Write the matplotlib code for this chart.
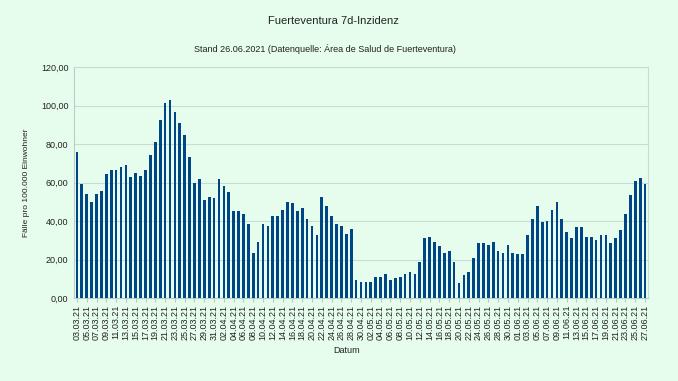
import numpy as np
import pandas as pd
import matplotlib.pyplot as plt

# 7-Tage-Inzidenz Fuerteventura, 03.03.2021 - 27.06.2021
start_date = "2021-03-03"
end_date = "2021-06-27"
inzidenz = [
    75.7, 59.1, 54.1, 50.0, 54.1, 55.7, 64.2, 66.7, 66.7, 68.3,
    69.2, 62.6, 65.0, 63.3, 66.7, 74.2, 80.8, 92.3, 101.5, 103.1,
    96.5, 90.8, 84.9, 73.3, 60.0, 61.7, 50.8, 52.6, 51.7,
    61.7, 58.3, 55.0, 45.0, 45.0, 43.4, 38.4, 23.5, 29.2, 38.4,
    37.5, 42.5, 42.5, 45.8, 50.0, 49.1, 45.0, 46.7, 40.8, 37.5,
    32.5, 52.6, 47.6, 42.5, 38.4, 37.5, 33.4, 35.8, 9.3, 8.5,
    8.5, 8.5, 11.1, 11.1, 12.6, 9.3, 10.2, 11.1, 12.6, 13.5,
    12.6, 18.5, 31.0, 31.6, 29.2, 26.8, 23.5, 24.2, 18.5, 7.6,
    11.8, 13.5, 20.9, 28.4, 28.4, 27.5, 29.2, 24.2, 23.5, 27.5,
    23.5, 22.7, 22.7,
    32.5, 40.8, 47.6, 39.3, 39.9, 45.8, 50.0, 40.8, 34.2, 31.0,
    36.7, 36.7, 31.6, 31.6, 30.1, 32.5, 32.5, 28.4, 31.0, 35.1,
    43.4, 53.3, 60.7, 62.4, 59.1,
]
y_ticks = [0, 20, 40, 60, 80, 100, 120]

dates = pd.date_range(start_date, end_date, freq="D")
x = np.arange(len(dates))

bg = "#e6fcec"
plt.rcParams['font.family'] = ['Liberation Sans', 'DejaVu Sans']

fig = plt.figure(figsize=(6.78, 3.81), dpi=100, facecolor=bg)
ax = fig.add_axes([74 / 678, 1 - 298 / 381, (648 - 74) / 678, (298 - 67) / 381])
ax.set_facecolor(bg)

ax.bar(x, inzidenz, width=0.55, color="#004586", zorder=3)

ax.set_xlim(-0.6, len(x) - 0.4)
ax.set_ylim(0, 120)
ax.set_yticks(y_ticks)
ax.set_yticklabels([f"{v:.2f}".replace(".", ",") for v in y_ticks], fontsize=6.5, color="#222222")
ax.yaxis.grid(True, color="#c8dcd6", linewidth=0.8, zorder=0)
ax.tick_params(axis="y", length=0, pad=4)

ax.set_xticks(x[::2])
ax.set_xticklabels([d.strftime("%d.%m.%y") for d in dates[::2]], rotation=90, fontsize=6.5, color="#222222")
ax.tick_params(axis="x", length=3, color="#b8ccc8", pad=2)

for s in ["top", "right"]:
    ax.spines[s].set_color("#c8dcd6")
for s in ["left", "bottom"]:
    ax.spines[s].set_color("#b8ccc8")

ax.set_xlabel("Datum", fontsize=6.5, color="#222222")
ax.xaxis.set_label_coords((347 - 74) / (648 - 74), -(346 - 298) / (298 - 67))
ax.set_ylabel("Fälle pro 100.000 Einwohner", fontsize=6, color="#222222", labelpad=8)

fig.text(333 / 678, 1 - 21 / 381, "Fuerteventura 7d-Inzidenz", ha="center", va="center", fontsize=8, color="#222222")
fig.text(325 / 678, 1 - 49 / 381, "Stand 26.06.2021 (Datenquelle: Área de Salud de Fuerteventura)",
         ha="center", va="center", fontsize=6.5, color="#222222")

plt.savefig("out.png", dpi=100, facecolor=bg)
